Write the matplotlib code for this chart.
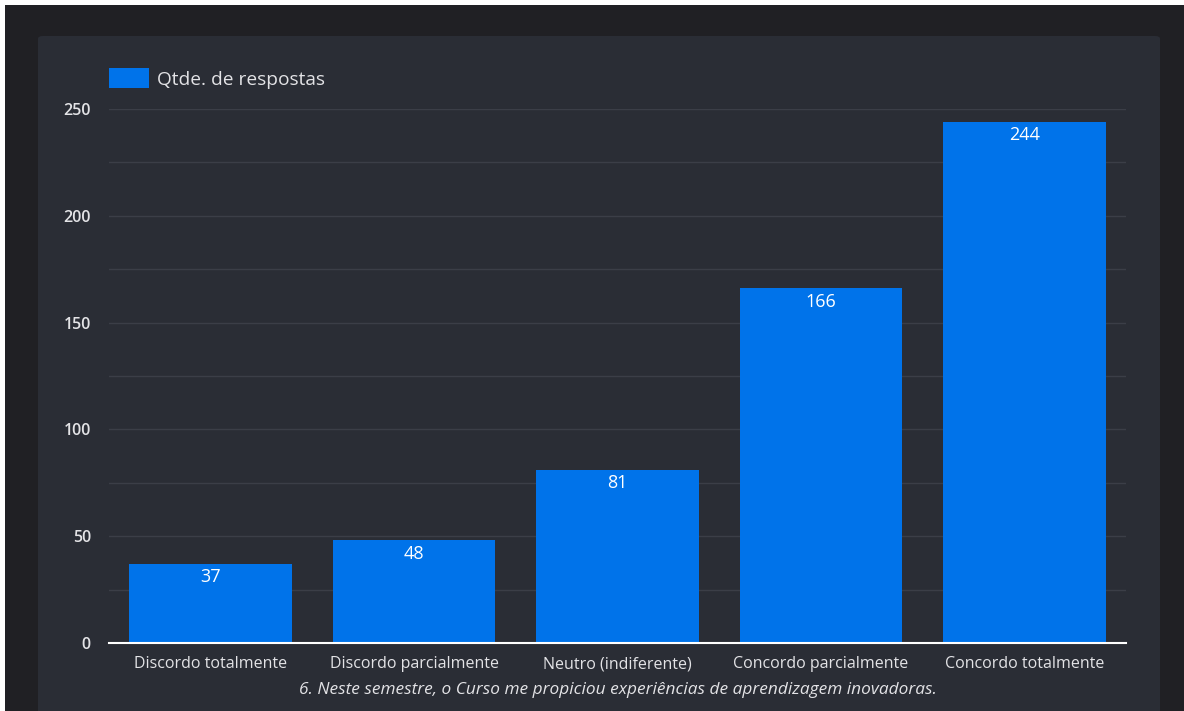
import matplotlib.pyplot as plt
from matplotlib.patches import FancyBboxPatch, Rectangle

categories = ["Discordo totalmente", "Discordo parcialmente", "Neutro (indiferente)",
              "Concordo parcialmente", "Concordo totalmente"]
counts = [37, 48, 81, 166, 244]
series_name = "Qtde. de respostas"
caption = "6. Neste semestre, o Curso me propiciou experiências de aprendizagem inovadoras."

W, H = 1184, 711
bar_color = "#0073ea"
panel_bg = "#2a2d35"
outer_bg = "#202024"
text_color = "#e3e3e6"
grid_color = "#3b3e47"

plt.rcParams['font.family'] = ['Open Sans', 'DejaVu Sans']

fig = plt.figure(figsize=(W / 100, H / 100), dpi=100)
fig.patch.set_facecolor(outer_bg)

# white border at top and left of the screenshot
fig.patches.append(Rectangle((0, 1 - 5 / H), 1, 5 / H, transform=fig.transFigure,
                             facecolor="white", edgecolor="none", zorder=-2))
fig.patches.append(Rectangle((0, 0), 5 / W, 1, transform=fig.transFigure,
                             facecolor="white", edgecolor="none", zorder=-2))
# card panel
fig.patches.append(FancyBboxPatch((38 / W, -0.02), (1160 - 38) / W, 1 - 36 / H + 0.02,
                                  boxstyle="round,pad=0,rounding_size=0.004",
                                  transform=fig.transFigure, facecolor=panel_bg,
                                  edgecolor="none", zorder=-1))

ax = fig.add_axes([109 / W, 68 / H, (1126 - 109) / W, (643 - 109) / H])
ax.set_facecolor("none")
ax.set_zorder(2)

x = range(len(categories))
bars = ax.bar(x, counts, width=0.8, color=bar_color, zorder=3)
ax.set_xlim(-0.5, len(categories) - 0.5)
ax.set_ylim(0, 250)

for b, v in zip(bars, counts):
    ax.annotate(str(v), (b.get_x() + b.get_width() / 2, v), xytext=(0, -9.5),
                textcoords="offset points", ha="center", va="center",
                color="white", fontsize=13, zorder=4)

ax.set_yticks(range(0, 251, 50))
ax.set_yticks(range(25, 250, 50), minor=True)
ax.grid(axis="y", which="both", color=grid_color, linewidth=1, zorder=0)
ax.set_xticks(list(x))
ax.set_xticklabels(categories)
ax.tick_params(axis="both", which="both", length=0, colors=text_color)
ax.tick_params(axis="x", pad=9.5, labelsize=11.5)
ax.tick_params(axis="y", pad=13, labelsize=11.5)
for lbl in ax.get_yticklabels():
    lbl.set_fontweight("semibold")

for s in ["top", "right", "left"]:
    ax.spines[s].set_visible(False)
ax.spines["bottom"].set_color("white")
ax.spines["bottom"].set_linewidth(1.5)
ax.spines["bottom"].set_zorder(5)

leg = fig.legend([bars[0]], [series_name], loc="center left",
                 bbox_to_anchor=(109 / W, 1 - 78.5 / H),
                 frameon=False, fontsize=13.8, labelcolor=text_color,
                 handlelength=2.1, handleheight=1.2, handletextpad=0.42,
                 borderaxespad=0, borderpad=0)

fig.text(618 / W, 1 - 690 / H, caption, ha="center", va="center",
         color=text_color, fontsize=12.4, style="italic")

fig.savefig("out.png", dpi=100, facecolor=fig.get_facecolor())
